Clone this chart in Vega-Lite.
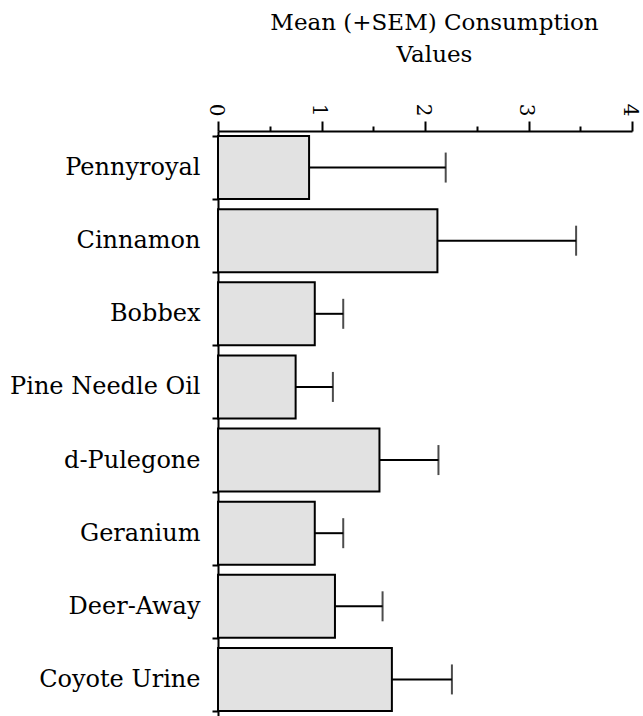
{
  "$schema": "https://vega.github.io/schema/vega-lite/v6.json",
  "width": 414,
  "height": 585,
  "autosize": {"type": "none"},
  "padding": {"left": 218, "top": 131, "right": 11, "bottom": 0},
  "background": "white",
  "config": {"view": {"stroke": null}, "axis": {"grid": false}},
  "data": {
    "values": [
      {"item": "Pennyroyal", "mean": 0.88, "upper": 2.2},
      {"item": "Cinnamon", "mean": 2.12, "upper": 3.46},
      {"item": "Bobbex", "mean": 0.935, "upper": 1.21},
      {"item": "Pine Needle Oil", "mean": 0.75, "upper": 1.11},
      {"item": "d-Pulegone", "mean": 1.56, "upper": 2.13},
      {"item": "Geranium", "mean": 0.935, "upper": 1.21},
      {"item": "Deer-Away", "mean": 1.13, "upper": 1.59},
      {"item": "Coyote Urine", "mean": 1.68, "upper": 2.26}
    ]
  },
  "encoding": {
    "y": {
      "field": "item",
      "type": "nominal",
      "sort": null,
      "title": null,
      "scale": {"paddingInner": 0.14, "paddingOuter": 0.07},
      "axis": {
        "labelFont": "DejaVu Serif",
        "labelFontSize": 24,
        "labelColor": "black",
        "labelLimit": 300,
        "tickBand": "extent",
        "tickSize": 6,
        "tickWidth": 2,
        "tickColor": "black",
        "domainColor": "black",
        "domainWidth": 2,
        "labelPadding": 12
      }
    }
  },
  "layer": [
    {
      "mark": {"type": "bar", "fill": "#e2e2e2", "stroke": "black", "strokeWidth": 2},
      "encoding": {
        "x": {
          "field": "mean",
          "type": "quantitative",
          "scale": {"domain": [0, 4], "nice": false},
          "title": ["Mean (+SEM) Consumption", "Values"],
          "axis": {
            "orient": "top",
            "values": [0, 0.5, 1, 1.5, 2, 2.5, 3, 3.5, 4],
            "labelExpr": "datum.value % 1 === 0 ? format(datum.value, 'd') : ''",
            "labelAngle": 90,
            "labelFont": "DejaVu Serif",
            "labelFontSize": 20,
            "labelColor": "black",
            "labelOverlap": false,
            "labelFlush": false,
            "labelPadding": 5,
            "labelOffset": -3,
            "tickSize": {"condition": {"test": "datum.value % 1 !== 0", "value": 5}, "value": 10},
            "tickWidth": 2,
            "tickColor": "black",
            "domainColor": "black",
            "domainWidth": 2,
            "titleFont": "DejaVu Serif",
            "titleFontSize": 23,
            "titleFontWeight": "normal",
            "titleColor": "black",
            "titleLineHeight": 32,
            "titlePadding": 37,
            "titleX": 216
          }
        }
      }
    },
    {
      "mark": {"type": "rule", "strokeWidth": 2, "color": "black"},
      "encoding": {
        "x": {"field": "mean", "type": "quantitative", "title": ["Mean (+SEM) Consumption", "Values"]},
        "x2": {"field": "upper"}
      }
    },
    {
      "mark": {"type": "tick", "color": "black", "thickness": 2, "size": 30},
      "encoding": {
        "x": {"field": "upper", "type": "quantitative", "title": ["Mean (+SEM) Consumption", "Values"]}
      }
    }
  ]
}
